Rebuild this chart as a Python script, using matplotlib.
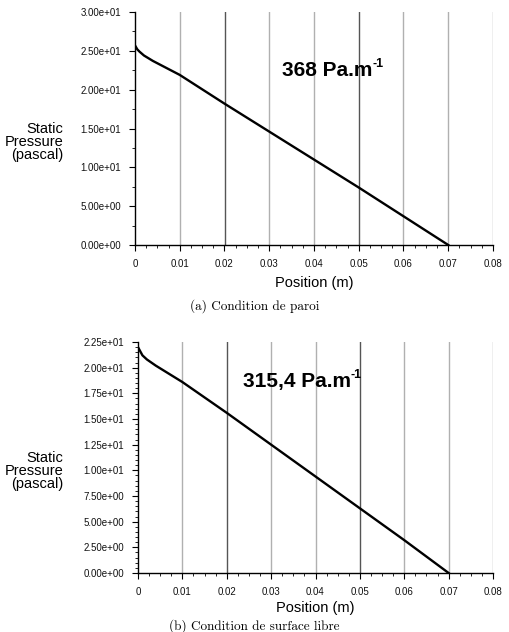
import matplotlib.pyplot as plt
from matplotlib.ticker import MultipleLocator, AutoMinorLocator, FormatStrFormatter, FuncFormatter

# panel (a): wall condition
pos_a = [0.0, 0.0005, 0.001, 0.002, 0.004, 0.01, 0.02, 0.03, 0.04, 0.05, 0.06, 0.07]
p_a = [25.7, 25.2, 24.9, 24.4, 23.7, 21.9, 18.2, 14.6, 11.0, 7.4, 3.7, 0.0]

# panel (b): free surface condition
pos_b = [0.0, 0.0005, 0.001, 0.002, 0.004, 0.01, 0.02, 0.03, 0.04, 0.05, 0.06, 0.07]
p_b = [22.0, 21.6, 21.2, 20.8, 20.2, 18.6, 15.6, 12.5, 9.4, 6.3, 3.2, 0.0]

grid_x = [0.01, 0.02, 0.03, 0.04, 0.05, 0.06, 0.07, 0.08]
dark_x = [0.02, 0.05]

W, H = 509, 632
fig = plt.figure(figsize=(W / 100, H / 100), dpi=100)
renderer = fig.canvas.get_renderer()


def draw_panel(rect, xs, ys, ymax, ystep, yminor, label, label_xy, caption, cap_y, ylab_y, xlpad):
    ax = fig.add_axes(rect)
    for g in grid_x:
        col = '#555555' if g in dark_x else '#b0b0b0'
        ax.axvline(g, color=col, lw=1.0, zorder=1)
    ax.plot(xs, ys, color='black', lw=1.7, zorder=3)
    ax.set_xlim(0, 0.08)
    ax.set_ylim(0, ymax)
    ax.xaxis.set_major_locator(MultipleLocator(0.01))
    ax.xaxis.set_minor_locator(AutoMinorLocator(4))
    ax.yaxis.set_major_locator(MultipleLocator(ystep))
    ax.yaxis.set_minor_locator(AutoMinorLocator(yminor))
    ax.xaxis.set_major_formatter(FuncFormatter(lambda v, p: '0' if abs(v) < 1e-9 else f'{v:.2f}'))
    ax.yaxis.set_major_formatter(FormatStrFormatter('%.2e'))
    for s in ['top', 'right']:
        ax.spines[s].set_visible(False)
    for s in ['left', 'bottom']:
        ax.spines[s].set_linewidth(1.0)
    ax.tick_params(which='major', direction='out', length=4, width=0.8,
                   labelsize=7, pad=6, labelcolor='#111111')
    ax.tick_params(which='minor', direction='out', length=2, width=0.6)
    for t in ax.get_xticklabels() + ax.get_yticklabels():
        t.set_fontfamily('Liberation Sans')
    ax.set_xlabel('Position (m)', fontsize=10.5, fontfamily='Liberation Sans', labelpad=xlpad)

    # gradient label with a plain "-1" superscript
    main = ax.text(label_xy[0], label_xy[1], label, transform=ax.transAxes,
                   fontsize=15, fontweight='bold', fontfamily='Liberation Sans',
                   ha='left', va='center')
    bb = main.get_window_extent(renderer=renderer)
    fig.text(bb.x1 / W, (bb.y1 - 9) / H, '-1', fontsize=9, fontweight='bold',
             fontfamily='Liberation Sans', ha='left', va='bottom')

    fig.text(63 / W, 1 - ylab_y / H, 'Static\nPressure\n(pascal)', ha='right', va='center',
             fontsize=10.5, fontfamily='Liberation Sans', linespacing=0.95)
    fig.text(0.5, 1 - cap_y / H, caption, ha='center', va='center',
             fontsize=9.5, fontfamily='cmr10')
    return ax


draw_panel([135 / W, 1 - 245 / H, 358 / W, 233 / H], pos_a, p_a, 30, 5, 2,
           '368 Pa.m', (0.41, 0.75), '(a) Condition de paroi', 306, 142, 5)
draw_panel([138 / W, 1 - 573 / H, 355 / W, 231 / H], pos_b, p_b, 22.5, 2.5, 5,
           '315,4 Pa.m', (0.295, 0.83), '(b) Condition de surface libre', 626, 471, 3)

fig.savefig('out.png', dpi=100)
